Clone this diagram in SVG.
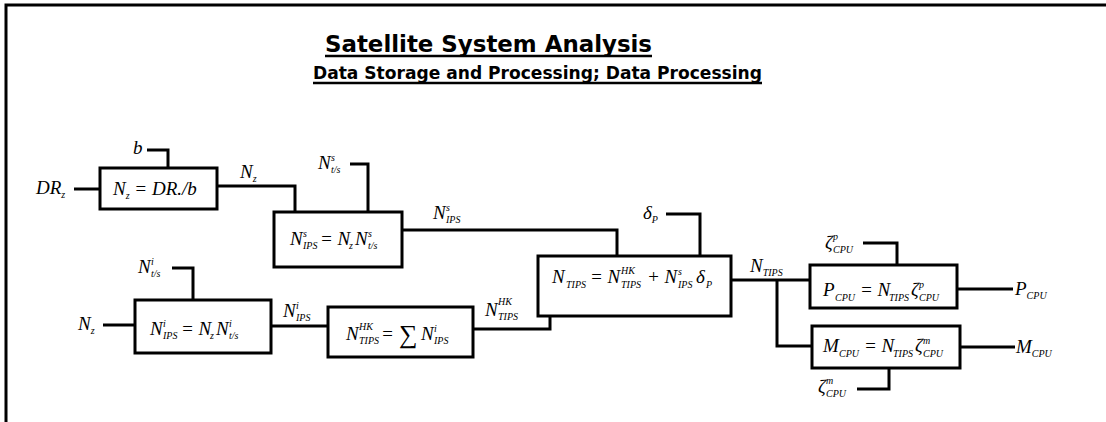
<svg xmlns="http://www.w3.org/2000/svg" width="1106" height="422" viewBox="0 0 1106 422">
<style>
.frame{stroke:#000;stroke-width:3;fill:none}
.box{fill:#fff;stroke:#000;stroke-width:3}
.w{fill:none;stroke:#000;stroke-width:3}
.t{font-family:"Liberation Sans Narrow","DejaVu Sans Condensed","DejaVu Sans",sans-serif;font-stretch:condensed;font-weight:bold;fill:#000}
.m{font-family:"Liberation Serif","Times New Roman",serif;font-style:italic;font-size:19px;fill:#000}
.s{font-size:10px}
.r{font-style:normal}
</style>
<rect width="1106" height="422" fill="#fff"/>
<path class="frame" d="M6,422 V5 H1106"/>
<g id="title">
<text class="t" x="325" y="52" font-size="23" textLength="327" lengthAdjust="spacingAndGlyphs">Satellite System Analysis</text>
<line x1="325" y1="56" x2="652" y2="56" stroke="#000" stroke-width="2.5"/>
<text class="t" x="313" y="79" font-size="18" textLength="449" lengthAdjust="spacingAndGlyphs">Data Storage and Processing; Data Processing</text>
<line x1="313" y1="83" x2="762" y2="83" stroke="#000" stroke-width="2.5"/>
</g>
<g id="connectors">
<path class="w" d="M74,189 H100"/>
<path class="w" d="M147,150 H168 V168"/>
<path class="w" d="M217,186 H295 V212"/>
<path class="w" d="M350,164 H368 V212"/>
<path class="w" d="M402,230 H617 V256"/>
<path class="w" d="M666,214 H700 V256"/>
<path class="w" d="M731,280 H810"/>
<path class="w" d="M777,280 V346 H812"/>
<path class="w" d="M863,243 H897 V265"/>
<path class="w" d="M957,289 H1013"/>
<path class="w" d="M960,347 H1015"/>
<path class="w" d="M857,389 H889 V368"/>
<path class="w" d="M103,325 H135"/>
<path class="w" d="M172,268 H193 V300"/>
<path class="w" d="M271,326 H328"/>
<path class="w" d="M473,329 H550 V316"/>
</g>
<g id="labels">
<text class="m" x="36" y="194">DR<tspan class="s" dy="4">z</tspan></text>
<text class="m" x="133" y="154">b</text>
<text class="m" x="240" y="178">N<tspan class="s" dy="4">z</tspan></text>
<text class="m" x="318" y="169">N<tspan class="s" x="331" y="161">s</tspan><tspan class="s" x="331" y="173">t/s</tspan></text>
<text class="m" x="433" y="219">N<tspan class="s" x="446" y="211">s</tspan><tspan class="s" x="446" y="223">IPS</tspan></text>
<text class="m" x="643" y="219">δ<tspan class="s" dy="4">P</tspan></text>
<text class="m" x="750" y="272">N<tspan class="s" dy="4">TIPS</tspan></text>
<text class="m" x="825" y="249">ζ<tspan class="s" x="833" y="240">p</tspan><tspan class="s" x="833" y="253">CPU</tspan></text>
<text class="m" x="1015" y="295">P<tspan class="s" dy="4">CPU</tspan></text>
<text class="m" x="1016" y="353">M<tspan class="s" dy="4">CPU</tspan></text>
<text class="m" x="818" y="393">ζ<tspan class="s" x="826" y="384">m</tspan><tspan class="s" x="826" y="397">CPU</tspan></text>
<text class="m" x="78" y="330">N<tspan class="s" dy="4">z</tspan></text>
<text class="m" x="138" y="273">N<tspan class="s" x="151" y="265">i</tspan><tspan class="s" x="151" y="277">t/s</tspan></text>
<text class="m" x="283" y="317">N<tspan class="s" x="296" y="309">i</tspan><tspan class="s" x="296" y="321">IPS</tspan></text>
<text class="m" x="485" y="316">N<tspan class="s" x="498" y="305">HK</tspan><tspan class="s" x="498" y="320">TIPS</tspan></text>
</g>
<g id="node-box1">
<rect class="box" x="100" y="168" width="117" height="41"/>
<text class="m" x="113" y="195">N<tspan class="s" dy="4">z</tspan><tspan dy="-4"> = DR./b</tspan></text>
</g>
<g id="node-box2">
<rect class="box" x="274" y="212" width="128" height="55"/>
<text class="m" x="290" y="245">N<tspan class="s" x="303" y="237">s</tspan><tspan class="s" x="303" y="249">IPS</tspan><tspan x="320" y="245">= N</tspan><tspan class="s" x="349" y="249">z</tspan><tspan x="355" y="245">N</tspan><tspan class="s" x="368" y="237">s</tspan><tspan class="s" x="368" y="249">t/s</tspan></text>
</g>
<g id="node-box3">
<rect class="box" x="135" y="300" width="136" height="53"/>
<text class="m" x="150" y="335">N<tspan class="s" x="163" y="327">i</tspan><tspan class="s" x="163" y="339">IPS</tspan><tspan x="181" y="335">= N</tspan><tspan class="s" x="210" y="339">z</tspan><tspan x="216" y="335">N</tspan><tspan class="s" x="229" y="327">i</tspan><tspan class="s" x="229" y="339">t/s</tspan></text>
</g>
<g id="node-box5">
<rect class="box" x="328" y="307" width="145" height="50"/>
<text class="m" x="346" y="340">N<tspan class="s" x="359" y="330">HK</tspan><tspan class="s" x="359" y="344">TIPS</tspan><tspan x="381" y="340">=</tspan><tspan class="r" x="399" y="343" font-size="26">∑</tspan><tspan x="421" y="340">N</tspan><tspan class="s" x="434" y="332">i</tspan><tspan class="s" x="434" y="344">IPS</tspan></text>
</g>
<g id="node-box4">
<rect class="box" x="538" y="256" width="193" height="60"/>
<text class="m" x="552" y="283">N<tspan class="s" x="566" y="288">TIPS</tspan><tspan x="590" y="283">= N</tspan><tspan class="s" x="621" y="274">HK</tspan><tspan class="s" x="621" y="288">TIPS</tspan><tspan x="647" y="283">+ N</tspan><tspan class="s" x="678" y="275">s</tspan><tspan class="s" x="678" y="288">IPS</tspan><tspan x="696" y="283">δ</tspan><tspan class="s" x="706" y="288">P</tspan></text>
</g>
<g id="node-pcpu">
<rect class="box" x="810" y="265" width="147" height="43"/>
<text class="m" x="823" y="296">P<tspan class="s" x="835" y="301">CPU</tspan><tspan x="860" y="296">= N</tspan><tspan class="s" x="889" y="301">TIPS</tspan><tspan x="911" y="296">ζ</tspan><tspan class="s" x="919" y="288">p</tspan><tspan class="s" x="919" y="301">CPU</tspan></text>
</g>
<g id="node-mcpu">
<rect class="box" x="812" y="326" width="148" height="42"/>
<text class="m" x="823" y="352">M<tspan class="s" x="839" y="357">CPU</tspan><tspan x="864" y="352">= N</tspan><tspan class="s" x="893" y="357">TIPS</tspan><tspan x="915" y="352">ζ</tspan><tspan class="s" x="923" y="344">m</tspan><tspan class="s" x="923" y="357">CPU</tspan></text>
</g>
</svg>
